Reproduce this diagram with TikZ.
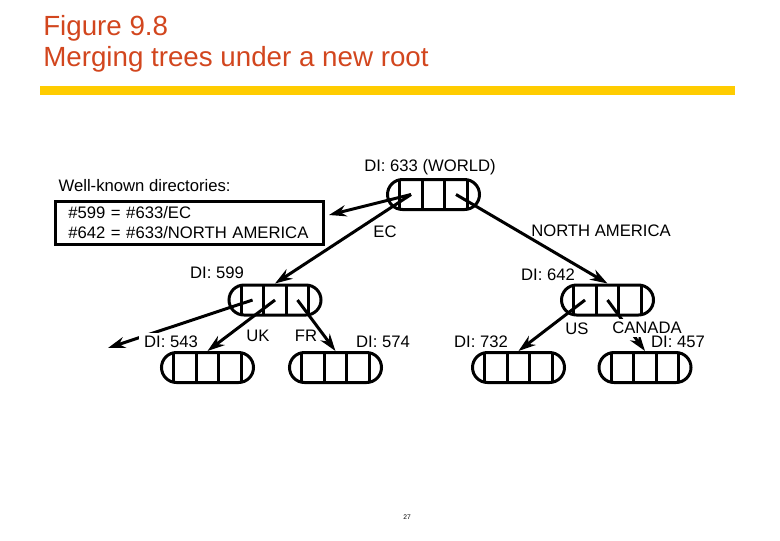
\documentclass[tikz,border=0pt]{standalone}
\usepackage{fontspec}
\setmainfont{Liberation Sans}
\usepackage{xcolor}
\usetikzlibrary{arrows.meta,positioning,calc}
\definecolor{titlered}{RGB}{210,70,30}
\definecolor{baryellow}{RGB}{255,204,0}
\tikzset{
  >={Stealth[length=13pt,width=8.5pt]},
  dirnode/.style={draw, line width=2.25pt, rounded corners=11.25pt, minimum width=69pt, minimum height=22.5pt, inner sep=0pt,
    path picture={\foreach \dx in {-25.3pt,-8.4pt,8.4pt,25.3pt}
      \draw[line width=2.25pt] ([xshift=\dx,yshift=-15pt]path picture bounding box.center) -- ++(0,30pt);}},
  linkbox/.style={draw, line width=2.25pt, align=left, text width=181pt, inner xsep=10pt, minimum height=32.25pt, font=\fontsize{12.5}{15}\selectfont},
  lab/.style={font=\fontsize{12.5}{15}\selectfont, inner sep=1pt},
  masklab/.style={lab, fill=white, inner xsep=4pt, inner ysep=2pt},
  title/.style={font=\fontsize{20.8}{25}\selectfont, text=titlered, anchor=base west, inner sep=0pt},
  link/.style={->, line width=2.25pt},
}
\begin{document}
\begin{tikzpicture}[x=0.75pt,y=-0.75pt]
  \useasboundingbox (0,0) rectangle (780,540);

  \node[title] (fig) at (43,35) {Figure 9.8};
  \node[title] (caption) at (43,66) {Merging trees under a new root};
  \fill[baryellow] (40,86) rectangle (735,95);

  % directory tables
  \node[dirnode] (root) at (433.5,194.5) {};
  \node[dirnode] (n599) at (275,300) {};
  \node[dirnode] (n642) at (607.5,300) {};
  \node[dirnode] (n543) at (207.5,367.5) {};
  \node[dirnode] (n574) at (335.5,367.5) {};
  \node[dirnode] (n732) at (518.5,367.5) {};
  \node[dirnode] (n457) at (645,367.5) {};

  \node[lab, anchor=west] (known) at (57,186) {Well-known directories:};
  \node[linkbox] (box) at (189,223) {\#599 = \#633/EC\\\#642 = \#633/NORTH AMERICA};
  \coordinate (away) at (108,348);

  \draw[link] ($(root)+(-22.5,0)$) -- ($(box.east)+(4.5,-8)$);
  \draw[link] ($(root)+(-22.5,0)$) -- (n599.north);
  \draw[link] ($(root)+(22.5,0)$) -- (n642.north);
  \draw[link] ($(n599)+(-22.5,0)$) -- (away);
  \draw[link] (n599.center) -- (n543.north);
  \draw[link] ($(n599)+(22.5,0)$) -- (n574.north);
  \draw[link] ($(n642)+(-22.5,0)$) -- (n732.north);
  \draw[link] (n642.center) -- (n457.north);

  % labels
  \node[lab] (l633) at (430,167) {DI: 633 (WORLD)};
  \node[lab] (lec) at (385,232) {EC};
  \node[lab] (lna) at (601,231) {NORTH AMERICA};
  \node[lab] (l599) at (217,273) {DI: 599};
  \node[lab] (l642) at (548,275) {DI: 642};
  \node[masklab] (l543) at (171,342) {DI: 543};
  \node[lab] (luk) at (258,336) {UK};
  \node[lab] (lfr) at (306,336) {FR};
  \node[lab] (l574) at (383,342) {DI: 574};
  \node[lab] (l732) at (481,342) {DI: 732};
  \node[lab] (lus) at (577,329) {US};
  \node[masklab] (lca) at (647,328) {CANADA};
  \node[lab, fill=white] (l457) at (678,342) {DI: 457};

  \node[font=\fontsize{5}{6}\selectfont] (page) at (407,517) {27};
\end{tikzpicture}
\end{document}
